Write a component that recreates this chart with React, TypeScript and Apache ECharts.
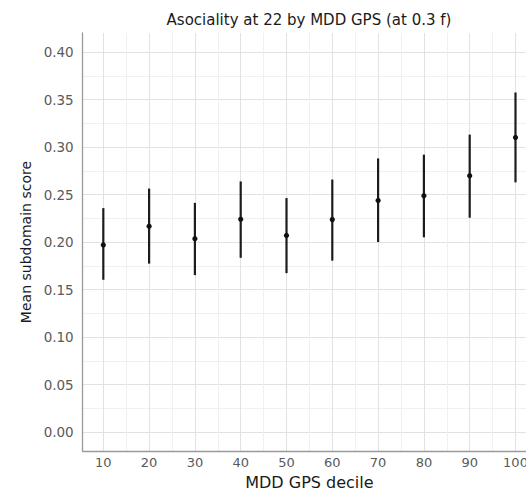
import React, { useEffect, useRef } from "react";
import * as echarts from "echarts";

const deciles = [10, 20, 30, 40, 50, 60, 70, 80, 90, 100];
const means = [0.197, 0.2166, 0.2035, 0.2241, 0.207, 0.2236, 0.2437, 0.2487, 0.2699, 0.3101];
const lowers = [0.1603, 0.1773, 0.1652, 0.1834, 0.1673, 0.1804, 0.2, 0.205, 0.2256, 0.2628];
const uppers = [0.2357, 0.2563, 0.2412, 0.2638, 0.2463, 0.2658, 0.288, 0.292, 0.3131, 0.3574];

const xLabelValues = [10, 20, 30, 40, 50, 60, 70, 80, 90, 100];
const xGridValues = [10, 15, 20, 25, 30, 35, 40, 45, 50, 55, 60, 65, 70, 75, 80, 85, 90, 95, 100];
const yLabelValues = [0, 0.05, 0.1, 0.15, 0.2, 0.25, 0.3, 0.35, 0.4];
const yGridValues = [0, 0.025, 0.05, 0.075, 0.1, 0.125, 0.15, 0.175, 0.2, 0.225, 0.25, 0.275, 0.3, 0.325, 0.35, 0.375, 0.4];

const titleText = "Asociality at 22 by MDD GPS (at 0.3 f)";
const xName = "MDD GPS decile";
const yName = "Mean subdomain score";

const FONT = "DejaVu Sans";
const MAJOR = "#e2e2e2";
const MINOR = "#f0f0f0";
const CHART_W = 545;

export default function App() {
  const ref = useRef<HTMLDivElement>(null);
  useEffect(() => {
    if (!ref.current) return;
    const chart = echarts.init(ref.current, null, { renderer: "svg" });
    const data = deciles.map((d, i) => [d, means[i], lowers[i], uppers[i]]);
    chart.setOption({
      animation: false,
      backgroundColor: "#ffffff",
      grid: { left: 82.7, right: CHART_W - 536.1, top: 33, bottom: 32.5, containLabel: false },
      graphic: [
        {
          type: "text",
          x: 309,
          y: 20,
          style: {
            text: titleText,
            textAlign: "center",
            textVerticalAlign: "middle",
            fontFamily: FONT,
            fontSize: 15,
            fill: "#1a1a1a",
          },
        },
      ],
      xAxis: {
        type: "value",
        min: 5.5,
        max: 104.5,
        name: xName,
        nameLocation: "middle",
        nameGap: 15,
        nameTextStyle: { fontFamily: FONT, fontSize: 16, color: "#1a1a1a" },
        axisLine: { show: true, onZero: false, lineStyle: { color: "#9a9a9a", width: 1.3 } },
        axisTick: { show: false, customValues: xGridValues },
        axisLabel: {
          customValues: xLabelValues,
          fontFamily: FONT,
          fontSize: 13,
          color: "#5a5a5a",
          margin: 5,
        },
        splitLine: { show: true, lineStyle: { color: [MAJOR, MINOR], width: 1 } },
      },
      yAxis: {
        type: "value",
        min: -0.02,
        max: 0.42,
        name: yName,
        nameLocation: "middle",
        nameRotate: 90,
        nameGap: 47,
        nameTextStyle: { fontFamily: FONT, fontSize: 14, color: "#1a1a1a" },
        axisLine: { show: true, onZero: false, lineStyle: { color: "#9a9a9a", width: 1.3 } },
        axisTick: { show: false, customValues: yGridValues },
        axisLabel: {
          customValues: yLabelValues,
          fontFamily: FONT,
          fontSize: 13.5,
          color: "#5a5a5a",
          margin: 9,
          formatter: (v: number) => v.toFixed(2),
        },
        splitLine: { show: true, lineStyle: { color: [MAJOR, MINOR], width: 1 } },
      },
      series: [
        {
          type: "custom",
          data,
          encode: { x: 0, y: [1, 2, 3] },
          renderItem: (params: any, api: any) => {
            const x = api.value(0);
            const m = api.value(1);
            const lo = api.value(2);
            const hi = api.value(3);
            const pLo = api.coord([x, lo]);
            const pHi = api.coord([x, hi]);
            const pM = api.coord([x, m]);
            return {
              type: "group",
              children: [
                {
                  type: "line",
                  shape: { x1: pLo[0], y1: pLo[1], x2: pHi[0], y2: pHi[1] },
                  style: { stroke: "#1c1c1c", lineWidth: 2.2 },
                },
                {
                  type: "circle",
                  shape: { cx: pM[0], cy: pM[1], r: 2.6 },
                  style: { fill: "#111111" },
                },
              ],
            };
          },
        },
      ],
    });
    return () => chart.dispose();
  }, []);
  return (
    <div style={{ position: "fixed", left: 0, top: 0, width: 526, height: 495, overflow: "hidden" }}>
      <div ref={ref} style={{ width: CHART_W, height: 495 }} />
    </div>
  );
}
